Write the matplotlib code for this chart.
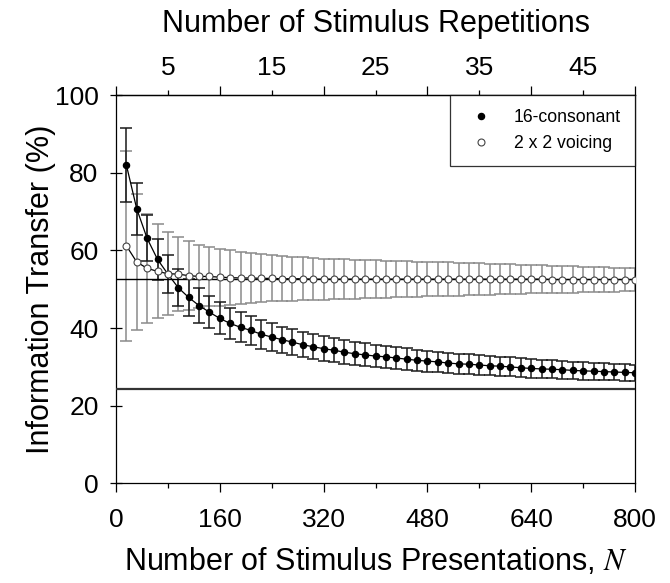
import matplotlib
matplotlib.use("Agg")
import matplotlib.pyplot as plt
from matplotlib.ticker import FixedLocator, NullFormatter

plt.rcParams['font.family'] = ['Liberation Sans', 'DejaVu Sans']
plt.rcParams['mathtext.fontset'] = 'stix'

# ---- data ----
presentations = [16, 32, 48, 64, 80, 96, 112, 128, 144, 160,
                 176, 192, 208, 224, 240, 256, 272, 288, 304, 320,
                 336, 352, 368, 384, 400, 416, 432, 448, 464, 480,
                 496, 512, 528, 544, 560, 576, 592, 608, 624, 640,
                 656, 672, 688, 704, 720, 736, 752, 768, 784, 800]

consonant_mean = [82.0, 70.7, 63.1, 57.7, 53.9, 50.4, 47.9, 45.8, 44.1, 42.5,
                  41.2, 40.2, 39.4, 38.4, 37.7, 37.0, 36.4, 35.7, 35.2, 34.7,
                  34.3, 33.8, 33.4, 33.1, 32.8, 32.6, 32.3, 32.0, 31.7, 31.5,
                  31.3, 31.0, 30.8, 30.7, 30.5, 30.3, 30.2, 30.0, 29.8, 29.6,
                  29.5, 29.4, 29.3, 29.1, 29.0, 28.9, 28.8, 28.7, 28.6, 28.5]
consonant_err = [9.6, 6.7, 5.9, 5.2, 4.9, 4.8, 4.7, 4.4, 4.2, 4.1,
                 4.0, 3.9, 3.8, 3.7, 3.5, 3.4, 3.3, 3.25, 3.2, 3.15,
                 3.1, 3.05, 3.0, 2.95, 2.9, 2.85, 2.8, 2.77, 2.74, 2.7,
                 2.67, 2.64, 2.6, 2.57, 2.54, 2.5, 2.47, 2.44, 2.41, 2.38,
                 2.35, 2.32, 2.3, 2.27, 2.24, 2.21, 2.19, 2.16, 2.13, 2.1]

voicing_mean = [61.2, 57.0, 55.4, 54.6, 54.0, 53.9, 53.5, 53.3, 53.3, 53.1,
                53.0, 52.9, 52.9, 52.8, 52.8, 52.7, 52.7, 52.7, 52.6, 52.6,
                52.6, 52.6, 52.6, 52.6, 52.6, 52.6, 52.6, 52.6, 52.6, 52.6,
                52.6, 52.6, 52.6, 52.6, 52.6, 52.6, 52.6, 52.6, 52.6, 52.6,
                52.6, 52.5, 52.5, 52.5, 52.5, 52.5, 52.5, 52.5, 52.5, 52.5]
voicing_err = [24.4, 17.4, 14.1, 12.1, 10.7, 9.5, 8.9, 8.2, 7.7, 7.3,
               7.0, 6.7, 6.4, 6.15, 5.95, 5.75, 5.6, 5.5, 5.4, 5.3,
               5.2, 5.1, 5.0, 4.92, 4.84, 4.76, 4.68, 4.6, 4.52, 4.45,
               4.38, 4.3, 4.22, 4.14, 4.06, 3.98, 3.9, 3.82, 3.74, 3.66,
               3.58, 3.5, 3.43, 3.36, 3.29, 3.22, 3.16, 3.1, 3.05, 3.0]

reference_levels = [52.6, 24.2]

x_ticks = [0, 160, 320, 480, 640, 800]
x_minor = [80, 240, 400, 560, 720]
y_ticks = [0, 20, 40, 60, 80, 100]
rep_ticks = [5, 15, 25, 35, 45]
rep_minor = [0, 10, 20, 30, 40, 50]
presentations_per_rep = 16

# ---- figure ----
fig = plt.figure(figsize=(6.70, 5.83), dpi=100)
ax = fig.add_axes([0.1731, 0.1707, 0.9478 - 0.1731, 0.8370 - 0.1707])

ax.errorbar(presentations, voicing_mean, yerr=voicing_err, fmt='none',
            ecolor='#8a8a8a', elinewidth=1.1, capsize=4.5, capthick=1.1, zorder=2)
ax.errorbar(presentations, consonant_mean, yerr=consonant_err, fmt='none',
            ecolor='#1a1a1a', elinewidth=1.1, capsize=4.0, capthick=1.1, zorder=3)

ax.axhline(reference_levels[0], color='black', lw=1.0, zorder=4)
ax.axhline(reference_levels[1], color='#333333', lw=1.6, zorder=4)

ax.plot(presentations, consonant_mean, '-', color='black', lw=0.9, zorder=5)
ax.plot(presentations, voicing_mean, '-', color='black', lw=0.9, zorder=5)
ax.plot(presentations, consonant_mean, 'o', ms=4.4, mfc='black', mec='black',
        lw=0, zorder=6, label='16-consonant')
ax.plot(presentations, voicing_mean, 'o', ms=5.0, mfc='white', mec='#444444',
        mew=0.8, lw=0, zorder=6, label='2 x 2 voicing')

ax.set_xlim(0, 800)
ax.set_ylim(0, 100)

ax.xaxis.set_major_locator(FixedLocator(x_ticks))
ax.xaxis.set_minor_locator(FixedLocator(x_minor))
ax.yaxis.set_major_locator(FixedLocator(y_ticks))
ax.tick_params(axis='x', which='major', direction='out', length=6.5, width=0.9,
               labelsize=19, pad=11.5, top=False)
ax.tick_params(axis='x', which='minor', direction='out', length=3.5, width=0.9, top=False)
ax.tick_params(axis='y', which='major', direction='inout', length=9, width=0.9,
               labelsize=19, pad=8, right=False)

for s in ax.spines.values():
    s.set_linewidth(0.9)

ax.set_xlabel('Number of Stimulus Presentations, $\\mathit{N}$', fontsize=22, labelpad=10)
ax.set_ylabel('Information Transfer (%)', fontsize=22, labelpad=-1)

sec = ax.secondary_xaxis('top', functions=(lambda n: n / presentations_per_rep,
                                           lambda r: r * presentations_per_rep))
sec.xaxis.set_major_locator(FixedLocator(rep_ticks))
sec.xaxis.set_minor_locator(FixedLocator(rep_minor))
sec.xaxis.set_minor_formatter(NullFormatter())
sec.tick_params(axis='x', which='major', direction='out', length=3.5, width=0.9,
                labelsize=19, pad=7.5)
sec.tick_params(axis='x', which='minor', direction='out', length=6.5, width=0.9)
sec.spines['top'].set_linewidth(0.9)
sec.set_xlabel('Number of Stimulus Repetitions', fontsize=22, labelpad=17)

leg = ax.legend(loc='upper right', bbox_to_anchor=(1.0, 1.0), borderaxespad=0,
                fontsize=12.7, frameon=True, fancybox=False, handlelength=1.92,
                handletextpad=0.91, borderpad=0.8, labelspacing=0.52)
leg.get_frame().set_edgecolor('black')
leg.get_frame().set_linewidth(0.9)

fig.savefig('out.png', dpi=100)
